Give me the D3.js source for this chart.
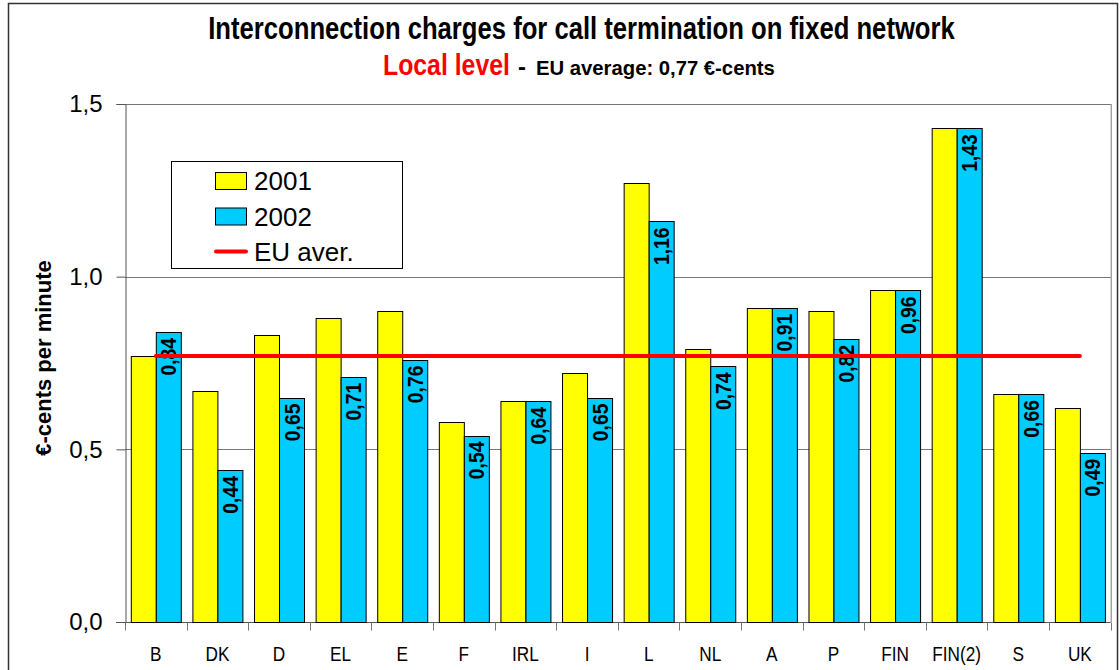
<!DOCTYPE html>
<html>
<head>
<meta charset="utf-8">
<script src="https://cdn.jsdelivr.net/npm/d3@7"></script>
<style>
  body { margin: 0; background: #fff; }
  text { font-family: 'Liberation Sans', Arial, sans-serif; }
</style>
</head>
<body>
<svg id="chart" width="1120" height="670"></svg>
<script>
// data
const categories = ['B', 'DK', 'D', 'EL', 'E', 'F', 'IRL', 'I', 'L', 'NL', 'A', 'P', 'FIN', 'FIN(2)', 'S', 'UK']
const values2001 = [0.77, 0.67, 0.83, 0.88, 0.90, 0.58, 0.64, 0.72, 1.27, 0.79, 0.91, 0.90, 0.96, 1.43, 0.66, 0.62]
const values2002 = [0.84, 0.44, 0.65, 0.71, 0.76, 0.54, 0.64, 0.65, 1.16, 0.74, 0.91, 0.82, 0.96, 1.43, 0.66, 0.49]
const seriesNames = ['2001', '2002']
const euAverage = 0.77
const yTicks = [0, 0.5, 1.0, 1.5]

const colors = { '2001': '#FFFF00', '2002': '#00CCFF' }

const width = 1120
const height = 670
const margin = { top: 104, right: 9.3, bottom: 48, left: 125 }

const locale = d3.formatLocale({ decimal: ',', thousands: '.', grouping: [3], currency: ['', '€'] })
const fmtTick = locale.format('.1f')
const fmtLabel = locale.format('.2f')

const data = categories.map((c, i) => ({ cat: c, '2001': values2001[i], '2002': values2002[i] }))

const svg = d3.select('#chart')

// background + outer frame
svg.append('rect').attr('width', width).attr('height', height).attr('fill', '#fff')
svg.append('rect')
  .attr('x', 8.5).attr('y', 3.5)
  .attr('width', 1109).attr('height', 720)
  .attr('fill', 'none').attr('stroke', '#333').attr('stroke-width', 1.5)

// scales
const x0 = d3.scaleBand()
  .domain(categories)
  .range([margin.left, width - margin.right])
  .padding(0)

const x1 = d3.scaleBand()
  .domain(seriesNames)
  .range([0, x0.bandwidth()])
  .paddingInner(0)
  .paddingOuter(0.232)

const y = d3.scaleLinear()
  .domain([0, 1.5])
  .range([height - margin.bottom, margin.top])

// grid + plot border
const grid = svg.append('g').attr('id', 'grid')
grid.selectAll('line')
  .data(yTicks.filter((d) => d > 0))
  .join('line')
  .attr('x1', margin.left).attr('x2', width - margin.right)
  .attr('y1', (d) => Math.round(y(d)) + 0.5).attr('y2', (d) => Math.round(y(d)) + 0.5)
  .attr('stroke', '#777')
grid.append('line')
  .attr('x1', width - margin.right + 0.5).attr('x2', width - margin.right + 0.5)
  .attr('y1', margin.top).attr('y2', y(0))
  .attr('stroke', '#777')

// y axis
const yAxis = svg.append('g')
  .attr('id', 'yAxis')
  .attr('transform', `translate(${margin.left + 0.5},0)`)
  .call(d3.axisLeft(y).tickValues(yTicks).tickFormat(fmtTick).tickSize(9).tickPadding(14))
yAxis.select('.domain').attr('stroke', '#555')
yAxis.selectAll('.tick line').attr('stroke', '#555')
yAxis.selectAll('.tick text')
  .attr('font-family', "'Liberation Sans', Arial, sans-serif")
  .attr('font-size', 24)
  .attr('fill', '#000')

// x axis
const xAxis = svg.append('g')
  .attr('id', 'xAxis')
  .attr('transform', `translate(0,${Math.round(y(0)) + 0.5})`)
xAxis.append('line')
  .attr('x1', margin.left - 9).attr('x2', width - margin.right)
  .attr('stroke', '#555')
xAxis.selectAll('.tick')
  .data(categories.concat(['end']))
  .join('line')
  .attr('class', 'tick')
  .attr('x1', (d, i) => Math.round(margin.left + i * x0.step()) + 0.5)
  .attr('x2', (d, i) => Math.round(margin.left + i * x0.step()) + 0.5)
  .attr('y1', 0).attr('y2', 8)
  .attr('stroke', '#777')
xAxis.selectAll('.label')
  .data(categories)
  .join('text')
  .attr('class', 'label')
  .attr('transform', (d) => `translate(${x0(d) + x0.bandwidth() / 2},38) scale(0.82,1)`)
  .attr('text-anchor', 'middle')
  .attr('font-size', 21)
  .text((d) => d)

// bars
const groups = svg.append('g').attr('id', 'bars')
  .selectAll('g')
  .data(data)
  .join('g')
  .attr('transform', (d) => `translate(${x0(d.cat)},0)`)

groups.selectAll('rect')
  .data((d) => seriesNames.map((k) => ({ key: k, value: d[k] })))
  .join('rect')
  .attr('x', (d) => x1(d.key) + 0.5)
  .attr('y', (d) => Math.round(y(d.value)) + 0.5)
  .attr('width', x1.bandwidth())
  .attr('height', (d) => Math.round(y(0)) - Math.round(y(d.value)))
  .attr('fill', (d) => colors[d.key])
  .attr('stroke', '#000')
  .attr('stroke-width', 1)

// value labels for 2002, vertical inside the bar top
groups.append('text')
  .attr('transform', (d) => `translate(${x1('2002') + x1.bandwidth() / 2 + 8},${y(d['2002']) + 6}) rotate(-90) scale(0.9,1)`)
  .attr('text-anchor', 'end')
  .attr('font-size', 21.5)
  .attr('font-weight', 'bold')
  .text((d) => fmtLabel(d['2002']))

// EU average line
svg.append('line')
  .attr('x1', x0(categories[0]) + x0.bandwidth() / 2)
  .attr('x2', x0(categories[categories.length - 1]) + x0.bandwidth() / 2)
  .attr('y1', y(euAverage)).attr('y2', y(euAverage))
  .attr('stroke', '#FF0000')
  .attr('stroke-width', 4)
  .attr('stroke-linecap', 'round')

// y axis title
svg.append('text')
  .attr('transform', `translate(51,358) rotate(-90)`)
  .attr('text-anchor', 'middle')
  .attr('font-size', 22)
  .attr('font-weight', 'bold')
  .text('€-cents per minute')

// titles (condensed look via horizontal scaling)
svg.append('text')
  .attr('transform', 'translate(581.5,39) scale(0.8275,1)')
  .attr('text-anchor', 'middle')
  .attr('font-size', 31)
  .attr('font-weight', 'bold')
  .text('Interconnection charges for call termination on fixed network')

svg.append('text')
  .attr('transform', 'translate(383,75) scale(0.856,1)')
  .attr('font-size', 29)
  .attr('font-weight', 'bold')
  .attr('fill', '#FF0000')
  .text('Local level')
svg.append('text')
  .attr('x', 518).attr('y', 75)
  .attr('font-size', 24)
  .attr('font-weight', 'bold')
  .text('-')
svg.append('text')
  .attr('transform', 'translate(536,75) scale(0.966,1)')
  .attr('font-size', 21)
  .attr('font-weight', 'bold')
  .text('EU average: ' + fmtLabel(euAverage) + ' €-cents')

// legend
const legendLayer = svg.append('g').attr('id', 'legend')
legendLayer.append('rect')
  .attr('x', 171.5).attr('y', 161.5)
  .attr('width', 231).attr('height', 107)
  .attr('fill', '#fff').attr('stroke', '#000')

const legendItems = [
  { name: '2001', type: 'bar' },
  { name: '2002', type: 'bar' },
  { name: 'EU aver.', type: 'line' },
]
const legendRows = legendLayer.selectAll('g')
  .data(legendItems)
  .join('g')
  .attr('transform', (d, i) => `translate(215,${180.5 + i * 35.5})`)

legendRows.filter((d) => d.type === 'bar')
  .append('rect')
  .attr('x', 0.5).attr('y', -8)
  .attr('width', 31).attr('height', 17)
  .attr('fill', (d) => colors[d.name])
  .attr('stroke', '#000')
legendRows.filter((d) => d.type === 'line')
  .append('line')
  .attr('x1', 1).attr('x2', 31)
  .attr('y1', 0).attr('y2', 0)
  .attr('stroke', '#FF0000').attr('stroke-width', 4).attr('stroke-linecap', 'round')
legendRows.append('text')
  .attr('x', 39).attr('y', 9.5)
  .attr('font-size', 26)
  .text((d) => d.name)
</script>
</body>
</html>
